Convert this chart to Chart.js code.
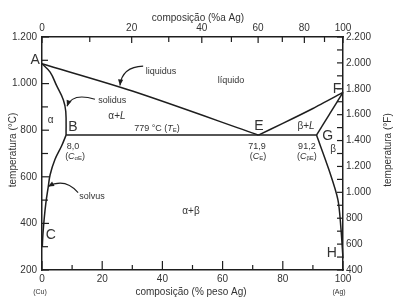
<!DOCTYPE html>
<html><head><meta charset="utf-8">
<script src="https://cdn.jsdelivr.net/npm/chart.js@4"></script>
<style>html,body{margin:0;padding:0;background:#fff}canvas{display:block}</style>
</head><body>
<canvas id="c" width="403" height="308"></canvas>
<script>
// ---- Data: x = composição (% peso Ag), y = temperatura (°C)
const liquidusAlphaX = [0, 30, 71.9];
const liquidusAlphaY = [1085, 968, 779];
const liquidusBetaX = [71.9, 80, 90, 100];
const liquidusBetaY = [779, 829, 893, 962];
const solidusAlphaX = [0, 2.7, 4.9, 7.1, 7.9, 8.0];
const solidusAlphaY = [1085, 1049, 990, 930, 880, 779];
const solidusBetaX = [100, 91.2];
const solidusBetaY = [962, 779];
const eutecticX = [8.0, 91.2];
const eutecticY = [779, 779];
const solvusAlphaX = [8.0, 6.5, 4.3, 2.7, 2.1, 1.3, 0.7, 0.3, 0.1];
const solvusAlphaY = [779, 732, 674, 609, 559, 489, 416, 351, 300];
const solvusBetaX = [91.2, 95.3, 98.3, 99.3, 100];
const solvusBetaY = [779, 631, 502, 381, 250];

// ---- Tick labels
const bottomTicks = [0, 20, 40, 60, 80, 100];
const bottomMinor = [10, 30, 50, 70, 90];
const topTicksAt = [0, 20, 40, 60, 80, 100];   // % atômica Ag
const topMinorAt = [10, 30, 50, 70, 90];
const leftTicks = [200, 400, 600, 800, 1000, 1200];
const leftMinor = [300, 500, 700, 900, 1100];
const rightTicks = [400, 600, 800, 1000, 1200, 1400, 1600, 1800, 2000, 2200];
const rightMinor = [500, 700, 900, 1100, 1300, 1500, 1700, 1900, 2100];

const M_AG = 107.87, M_CU = 63.55;
function atToWt(a) { return 100 * a * M_AG / (a * M_AG + (100 - a) * M_CU); }
function fmt(v) { return String(v).replace(/\B(?=(\d{3})+(?!\d))/g, '.'); }
function pts(xs, ys) { return xs.map((x, i) => ({ x: x, y: ys[i] })); }

const FONT = "'Liberation Sans', Arial, sans-serif";
const LINE = '#1e1e1e';
const TXT = '#333';

function ds(xs, ys, tension) {
  return { data: pts(xs, ys), showLine: true, borderColor: LINE, borderWidth: 1.5,
           pointRadius: 0, tension: tension || 0, clip: 4, fill: false };
}

const decor = {
  id: 'decor',
  afterDraw(chart) {
    const ctx = chart.ctx;
    const X = chart.scales.x, Y = chart.scales.y, Y2 = chart.scales.y2;
    const a = chart.chartArea;
    const px = v => X.getPixelForValue(v), py = v => Y.getPixelForValue(v);
    ctx.save();
    ctx.strokeStyle = LINE; ctx.lineWidth = 1.2;
    function line(x1, y1, x2, y2) { ctx.beginPath(); ctx.moveTo(x1, y1); ctx.lineTo(x2, y2); ctx.stroke(); }
    bottomTicks.forEach(v => line(px(v), a.bottom, px(v), a.bottom - 9));
    bottomMinor.forEach(v => line(px(v), a.bottom, px(v), a.bottom - 5));
    topTicksAt.forEach(v => line(px(atToWt(v)), a.top, px(atToWt(v)), a.top + 6));
    topMinorAt.forEach(v => line(px(atToWt(v)), a.top, px(atToWt(v)), a.top + 5));
    leftTicks.forEach(v => line(a.left, py(v), a.left + 7, py(v)));
    leftMinor.forEach(v => line(a.left, py(v), a.left + 6, py(v)));
    rightTicks.forEach(v => line(a.right, Y2.getPixelForValue(v), a.right - 6, Y2.getPixelForValue(v)));
    rightMinor.forEach(v => line(a.right, Y2.getPixelForValue(v), a.right - 6, Y2.getPixelForValue(v)));

    function rich(parts, x, y, align) {
      let w = 0;
      parts.forEach(p => { ctx.font = p.f; p.w = ctx.measureText(p.t).width; w += p.w; });
      let cx = align === 'left' ? x : (align === 'right' ? x - w : x - w / 2);
      ctx.textAlign = 'left'; ctx.textBaseline = 'middle';
      parts.forEach(p => { ctx.font = p.f; ctx.fillText(p.t, cx, y + (p.dy || 0)); cx += p.w; });
    }
    const f9 = '9px ' + FONT, f10 = '10px ' + FONT, fi9 = 'italic 9px ' + FONT,
          fi10 = 'italic 10px ' + FONT, f6 = '6px ' + FONT, f14 = '14px ' + FONT;
    ctx.fillStyle = TXT;
    const t = (s, f) => ({ t: s, f: f });
    const sub = (s) => ({ t: s, f: f6, dy: 2 });
    const labels = [
      { x: 39.5, y: 1053, p: [t('liquidus', f9)] },
      { x: 23.3, y: 928, p: [t('solidus', f9)] },
      { x: 62.8, y: 1015, p: [t('líquido', f9)] },
      { x: 2.9, y: 844, p: [t('α', f10)] },
      { x: 24.9, y: 859, p: [t('α+', f10), t('L', fi10)] },
      { x: 38.2, y: 806, p: [t('779 °C (', f9), t('T', fi9), sub('E'), t(')', f9)] },
      { x: 10.3, y: 730, p: [t('8,0', f9)] },
      { x: 11.0, y: 687, p: [t('(', f9), t('C', fi9), sub('αE'), t(')', f9)] },
      { x: 71.4, y: 730, p: [t('71,9', f9)] },
      { x: 71.8, y: 687, p: [t('(', f9), t('C', fi9), sub('E'), t(')', f9)] },
      { x: 87.7, y: 819, p: [t('β+', f10), t('L', fi10)] },
      { x: 88.0, y: 730, p: [t('91,2', f9)] },
      { x: 88.0, y: 687, p: [t('(', f9), t('C', fi9), sub('βE'), t(')', f9)] },
      { x: 96.7, y: 717, p: [t('β', f10)] },
      { x: 16.6, y: 515, p: [t('solvus', f9)] },
      { x: 49.5, y: 454, p: [t('α+β', f10)] },
      { x: -2.3, y: 1101, p: [t('A', f14)] },
      { x: 10.3, y: 815, p: [t('B', f14)] },
      { x: 2.9, y: 351, p: [t('C', f14)] },
      { x: 72.1, y: 818, p: [t('E', f14)] },
      { x: 98.0, y: 978, p: [t('F', f14)] },
      { x: 94.9, y: 776, p: [t('G', f14)] },
      { x: 96.3, y: 273, p: [t('H', f14)] }
    ];
    labels.forEach(l => rich(l.p, px(l.x), py(l.y), 'center'));

    const arrows = [
      [[33.6, 1075], [26.6, 1072], [25.9, 992]],
      [[17.6, 933], [10.0, 962], [8.3, 903]],
      [[12.0, 532], [7.6, 597], [2.0, 558]]
    ];
    ctx.lineWidth = 1.1; ctx.strokeStyle = LINE; ctx.fillStyle = LINE;
    arrows.forEach(ar => {
      const [s, c, e] = ar.map(p => [px(p[0]), py(p[1])]);
      ctx.beginPath(); ctx.moveTo(s[0], s[1]); ctx.quadraticCurveTo(c[0], c[1], e[0], e[1]); ctx.stroke();
      const ang = Math.atan2(e[1] - c[1], e[0] - c[0]);
      const L = 6, W = 2.6;
      ctx.beginPath();
      ctx.moveTo(e[0], e[1]);
      ctx.lineTo(e[0] - L * Math.cos(ang) + W * Math.sin(ang), e[1] - L * Math.sin(ang) - W * Math.cos(ang));
      ctx.lineTo(e[0] - L * Math.cos(ang) - W * Math.sin(ang), e[1] - L * Math.sin(ang) + W * Math.cos(ang));
      ctx.closePath(); ctx.fill();
    });

    ctx.fillStyle = TXT;
    ctx.font = f10; ctx.textAlign = 'center'; ctx.textBaseline = 'middle';
    ctx.fillText('composição (%a Ag)', 198, 18);
    ctx.fillText('composição (% peso Ag)', 191, 292);
    ctx.font = '7px ' + FONT;
    ctx.fillText('(Cu)', 40, 292);
    ctx.fillText('(Ag)', 339, 292);
    ctx.font = f10;
    ctx.save(); ctx.translate(13, 150); ctx.rotate(-Math.PI / 2); ctx.fillText('temperatura (°C)', 0, 0); ctx.restore();
    ctx.save(); ctx.translate(388, 150); ctx.rotate(-Math.PI / 2); ctx.fillText('temperatura (°F)', 0, 0); ctx.restore();
    ctx.restore();
  }
};

const tickFont = { family: FONT, size: 10 };
new Chart(document.getElementById('c'), {
  type: 'scatter',
  data: { datasets: [
    ds(liquidusAlphaX, liquidusAlphaY, 0.3),
    ds(liquidusBetaX, liquidusBetaY, 0.2),
    ds(solidusAlphaX, solidusAlphaY, 0.4),
    ds(solidusBetaX, solidusBetaY),
    ds(eutecticX, eutecticY),
    ds(solvusAlphaX, solvusAlphaY, 0.4),
    ds(solvusBetaX, solvusBetaY, 0.3)
  ] },
  options: {
    responsive: false, animation: false,
    layout: { padding: 0 },
    plugins: { legend: { display: false }, tooltip: { enabled: false } },
    scales: {
      x: { type: 'linear', position: 'bottom', min: 0, max: 100,
           grid: { display: false, drawTicks: false }, border: { display: true, color: LINE, width: 1.5 },
           afterBuildTicks: s => { s.ticks = bottomTicks.map(v => ({ value: v })); },
           ticks: { padding: 3, color: TXT, font: tickFont, maxRotation: 0, autoSkip: false },
           afterFit: s => { s.height = 38; } },
      x2: { type: 'linear', position: 'top', min: 0, max: 100,
           grid: { display: false, drawTicks: false }, border: { display: true, color: LINE, width: 1.5 },
           afterBuildTicks: s => { s.ticks = topTicksAt.map(v => ({ value: atToWt(v) })); },
           ticks: { padding: 3, color: TXT, font: tickFont, maxRotation: 0, autoSkip: false,
                    callback: (v, i) => String(topTicksAt[i]) },
           afterFit: s => { s.height = 37; } },
      y: { type: 'linear', position: 'left', min: 200, max: 1200,
           grid: { display: false, drawTicks: false }, border: { display: true, color: LINE, width: 1.5 },
           afterBuildTicks: s => { s.ticks = leftTicks.map(v => ({ value: v })); },
           ticks: { padding: 5, color: TXT, font: tickFont, autoSkip: false, callback: v => fmt(v) },
           afterFit: s => { s.width = 42; } },
      y2: { type: 'linear', position: 'right', min: 400, max: 2200,
           grid: { display: false, drawTicks: false }, border: { display: true, color: LINE, width: 1.5 },
           afterBuildTicks: s => { s.ticks = rightTicks.map(v => ({ value: v })); },
           ticks: { padding: 3, color: TXT, font: tickFont, autoSkip: false, callback: v => fmt(v) },
           afterFit: s => { s.width = 60; } }
    }
  },
  plugins: [decor]
});
</script>
</body></html>
